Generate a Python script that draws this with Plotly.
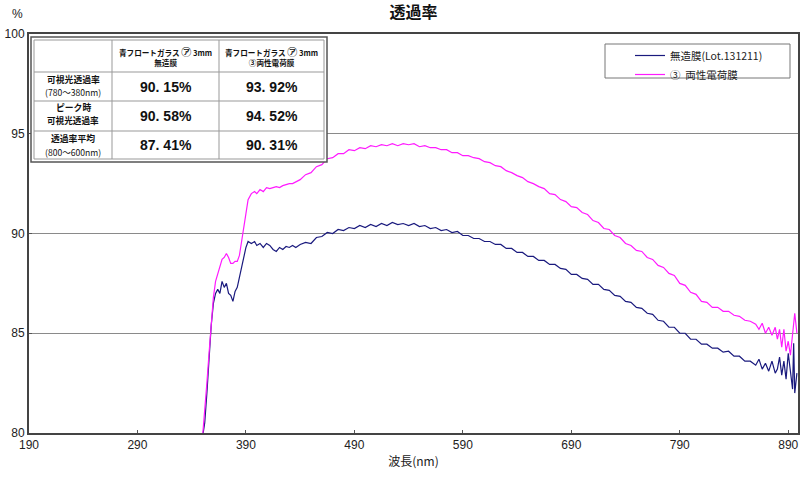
import plotly.graph_objects as go

# ---------------- data ----------------
wl_uncoated = [350, 352, 354, 356, 358, 360, 362, 364, 366, 368, 370, 372, 374, 376, 378, 380,
               382, 384, 386, 388, 390, 392, 395, 398, 400, 403, 406, 409, 412, 415, 418, 421,
               424, 427, 430, 433, 436, 440, 445, 450, 455, 460, 465, 470, 475, 480, 485, 490,
               495, 500, 505, 510, 515, 520, 525, 530, 535, 540, 545, 550, 555, 560, 565, 570,
               575, 580, 585, 590, 595, 600, 605, 610, 615, 620, 625, 630, 635, 640, 645, 650,
               655, 660, 665, 670, 675, 680, 685, 690, 695, 700, 705, 710, 715, 720, 725, 730,
               735, 740, 745, 750, 755, 760, 765, 770, 775, 780, 785, 790, 795, 800, 805, 810,
               815, 820, 825, 830, 835, 840, 845, 850, 855, 860, 863, 866, 869, 872, 875, 878,
               880, 882, 884, 886, 888, 890, 892, 894, 895, 896, 898]
t_uncoated = [79.8, 80.5, 82.0, 83.8, 85.4, 86.5, 87.0, 87.2, 87.0, 87.6, 87.3, 87.5, 87.0, 86.9, 86.6, 87.1,
              87.3, 87.8, 88.3, 88.8, 89.3, 89.6, 89.5, 89.6, 89.4, 89.5, 89.3, 89.5, 89.4, 89.2, 89.1, 89.3,
              89.2, 89.35, 89.3, 89.4, 89.3, 89.45, 89.55, 89.5, 89.8, 89.85, 90.05, 90.0, 90.2, 90.15, 90.3, 90.25,
              90.4, 90.3, 90.45, 90.35, 90.5, 90.4, 90.55, 90.45, 90.5, 90.4, 90.5, 90.35, 90.4, 90.25, 90.3, 90.15,
              90.2, 90.05, 90.1, 89.9, 89.9, 89.75, 89.75, 89.6, 89.6, 89.45, 89.45, 89.25, 89.25, 89.05, 89.05, 88.85,
              88.85, 88.65, 88.65, 88.45, 88.45, 88.25, 88.2, 87.95, 87.95, 87.75, 87.7, 87.45, 87.45, 87.2, 87.15, 86.9,
              86.85, 86.6, 86.55, 86.3, 86.25, 86.0, 85.95, 85.65, 85.6, 85.3, 85.3, 85.0, 85.0, 84.7, 84.7, 84.45,
              84.45, 84.25, 84.25, 84.05, 84.1, 83.85, 83.85, 83.6, 83.6, 83.4, 83.7, 83.2, 83.5, 83.1, 83.6, 83.0,
              83.2, 83.8, 82.9, 83.6, 82.7, 84.0, 83.0, 82.2, 84.5, 82.0, 83.0]

wl_coated = wl_uncoated
t_coated = [79.8, 81.0, 82.5, 84.0, 85.5, 86.8, 87.6, 88.0, 88.3, 88.7, 88.8, 89.0, 88.8, 88.5, 88.5, 88.6,
            88.6, 88.9, 89.6, 90.2, 91.0, 91.7, 92.0, 92.1, 92.0, 92.2, 92.1, 92.3, 92.25, 92.3, 92.35, 92.3,
            92.4, 92.45, 92.5, 92.5, 92.6, 92.7, 92.95, 93.05, 93.35, 93.45, 93.75, 93.8, 94.0, 94.0, 94.2, 94.15,
            94.3, 94.25, 94.4, 94.35, 94.45, 94.4, 94.5, 94.4, 94.5, 94.45, 94.5, 94.35, 94.4, 94.3, 94.3, 94.2,
            94.2, 94.05, 94.05, 93.9, 93.9, 93.8, 93.75, 93.6, 93.55, 93.4, 93.35, 93.15, 93.05, 92.9, 92.8, 92.6,
            92.5, 92.35, 92.25, 92.0, 91.95, 91.7, 91.6, 91.35, 91.3, 91.05, 90.95, 90.65, 90.55, 90.25, 90.2, 89.9,
            89.8, 89.5, 89.4, 89.15, 89.1, 88.8, 88.7, 88.4, 88.3, 88.0, 87.9, 87.5, 87.4, 87.05, 86.95, 86.6,
            86.55, 86.3, 86.3, 86.1, 86.1, 85.9, 85.85, 85.65, 85.6, 85.45, 85.2, 85.5, 85.0, 85.3, 84.9, 85.3,
            84.7, 85.2, 84.3, 85.2, 84.1, 84.6, 83.9, 85.0, 85.8, 86.0, 85.0]

series_names = ["無造膜(Lot.131211)", "③  両性電荷膜"]
series_colors = ["#1a1a7e", "#ff1aff"]

x_ticks = [190, 290, 390, 490, 590, 690, 790, 890]
y_ticks = [80, 85, 90, 95, 100]

table_header_line1 = ["青フロートガラス {a} 3mm", "青フロートガラス {a} 3mm"]
table_header_line2 = ["無造膜", "③両性電荷膜"]
table_row_line1 = ["可視光透過率", "ピーク時", "透過率平均"]
table_row_line2 = ["(780～380nm)", "可視光透過率", "(800～600nm)"]
table_uncoated = ["90. 15%", "90. 58%", "87. 41%"]
table_coated = ["93. 92%", "94. 52%", "90. 31%"]

JP = "Noto Sans CJK JP"
LAT = "Liberation Sans, Arial, sans-serif"

# ---------------- figure ----------------
W, H = 800, 478
ML, MR, MT, MB = 29, 2, 34, 45
PW, PH = W - ML - MR, H - MT - MB


def px_x(p):
    return (p - ML) / PW


def px_y(p):
    return (H - MB - p) / PH


fig = go.Figure()
fig.add_trace(go.Scatter(x=wl_uncoated, y=t_uncoated, mode="lines", name=series_names[0],
                         line=dict(color=series_colors[0], width=1.2)))
fig.add_trace(go.Scatter(x=wl_coated, y=t_coated, mode="lines", name=series_names[1],
                         line=dict(color=series_colors[1], width=1.2)))

# ---- inset table (shapes + annotations) ----
col_x = [34, 112, 219, 324]
row_y = [40, 72, 101, 131, 159]
shapes = [
    dict(type="rect", xref="paper", yref="paper",
         x0=px_x(31), x1=px_x(327), y0=px_y(162), y1=px_y(37),
         line=dict(color="#555", width=1.5), fillcolor="white", layer="above"),
    dict(type="rect", xref="paper", yref="paper",
         x0=px_x(col_x[0]), x1=px_x(col_x[-1]), y0=px_y(row_y[-1]), y1=px_y(row_y[0]),
         line=dict(color="#999", width=1), fillcolor="white", layer="above"),
]
for cx in col_x[1:-1]:
    shapes.append(dict(type="line", xref="paper", yref="paper", x0=px_x(cx), x1=px_x(cx),
                       y0=px_y(row_y[-1]), y1=px_y(row_y[0]), line=dict(color="#999", width=1),
                       layer="above"))
for ry in row_y[1:-1]:
    shapes.append(dict(type="line", xref="paper", yref="paper", x0=px_x(col_x[0]), x1=px_x(col_x[-1]),
                       y0=px_y(ry), y1=px_y(ry), line=dict(color="#999", width=1), layer="above"))
# legend box
shapes.append(dict(type="rect", xref="paper", yref="paper",
                   x0=px_x(605), x1=px_x(790), y0=px_y(78), y1=px_y(44),
                   line=dict(color="#777", width=1), fillcolor="white", layer="below"))

annotations = [
    dict(text="%", xref="paper", yref="paper", x=px_x(17), y=px_y(14),
         xanchor="center", yanchor="middle", showarrow=False,
         font=dict(family=LAT, size=12, color="#222")),
]


def ann(text, cx, cy, size, family=JP):
    return dict(text=text, xref="paper", yref="paper", x=px_x(cx), y=px_y(cy),
                xanchor="center", yanchor="middle", showarrow=False, borderpad=0,
                font=dict(family=family, size=size, color="#111"))


circ = '<span style="font-size:10px">㋐</span>'
col_centers = [(col_x[i] + col_x[i + 1]) / 2 for i in range(3)]
for i in range(2):
    txt = f"<b>{table_header_line1[i].format(a=circ)}<br>{table_header_line2[i]}</b>"
    annotations.append(ann(txt, col_centers[i + 1], 56.5, 7.6))
line1_y = [79.5, 107.5, 138]
line2_y = [92.5, 120.5, 151.5]
val_y = [87, 116, 145]
for r in range(3):
    second = f"<b>{table_row_line2[r]}</b>" if r == 1 else table_row_line2[r]
    annotations.append(ann(f"<b>{table_row_line1[r]}</b>", col_centers[0], line1_y[r], 8.8))
    annotations.append(ann(second, col_centers[0], line2_y[r], 8.6))
    annotations.append(ann(f"<b>{table_uncoated[r]}</b>", col_centers[1], val_y[r], 14, family=LAT))
    annotations.append(ann(f"<b>{table_coated[r]}</b>", col_centers[2], val_y[r], 14, family=LAT))

fig.update_layout(
    width=W, height=H,
    margin=dict(l=ML, r=MR, t=MT, b=MB, autoexpand=False),
    paper_bgcolor="white", plot_bgcolor="white",
    title=dict(text="<b>透過率</b>", x=(ML + PW / 2) / W, xanchor="center",
               y=1 - 12 / H, yanchor="middle",
               font=dict(family=JP, size=16, color="#111")),
    showlegend=True,
    legend=dict(x=px_x(630), y=px_y(41), xanchor="left", yanchor="top",
                bgcolor="rgba(0,0,0,0)", borderwidth=0,
                font=dict(family=JP, size=10.5, color="#222"),
                tracegroupgap=0),
    xaxis=dict(range=[190, 899], tickvals=x_ticks, ticks="inside", ticklen=3,
               tickcolor="#555", showgrid=False, zeroline=False,
               showline=True, linecolor="#444", linewidth=2, mirror=True,
               tickfont=dict(family=LAT, size=12, color="#222"),
               title=dict(text="波長(nm)", font=dict(family=JP, size=12, color="#222"), standoff=6)),
    yaxis=dict(range=[80, 100], tickvals=y_ticks, ticks="inside", ticklen=3,
               tickcolor="#555", showgrid=True, gridcolor="#8a8a8a", gridwidth=1,
               zeroline=False, showline=True, linecolor="#444", linewidth=2, mirror=True,
               tickfont=dict(family=LAT, size=12, color="#222")),
    shapes=shapes,
    annotations=annotations,
)

fig.write_html("out.html")
